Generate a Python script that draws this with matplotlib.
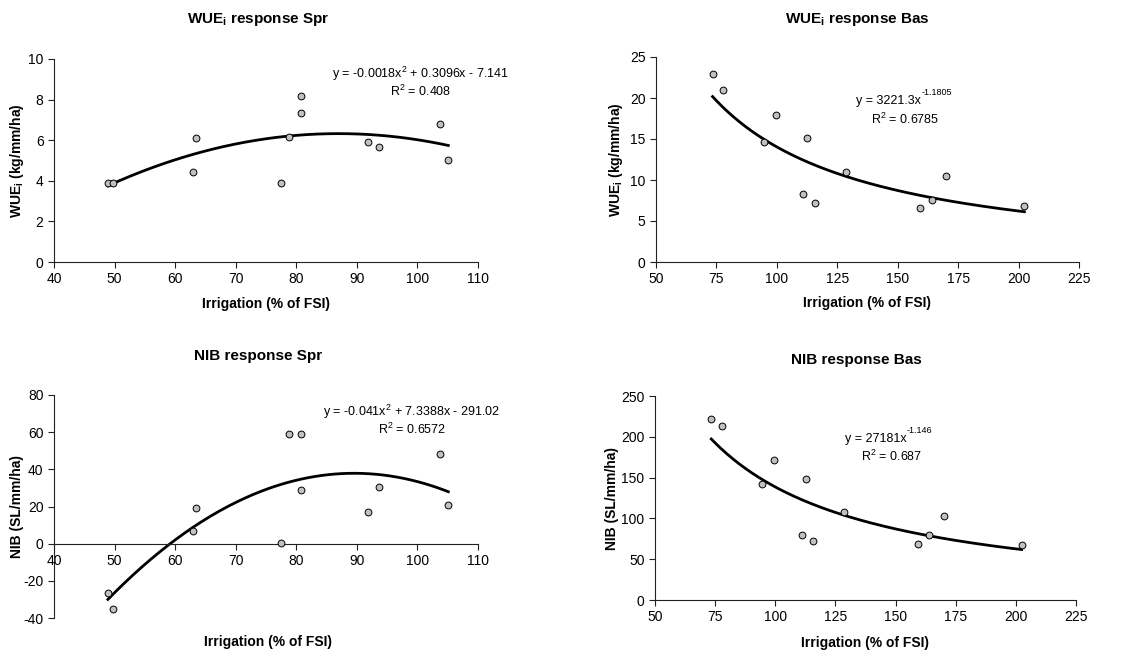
import numpy as np
import matplotlib.pyplot as plt

plt.rcParams['font.family'] = ['Liberation Sans', 'DejaVu Sans']
plt.rcParams['mathtext.default'] = 'regular'
plt.rcParams['axes.unicode_minus'] = False

# irrigation levels (% of FSI)
x_spr = [48.9, 49.8, 62.9, 63.4, 77.4, 78.8, 80.85, 80.85, 91.9, 93.6, 103.8, 105.1]
x_bas = [73.4, 77.7, 94.5, 99.5, 110.9, 112.6, 115.6, 128.7, 159.3, 164.0, 170.1, 202.4]

# WUEi (kg/mm/ha)
wue_spr = [3.88, 3.88, 4.41, 6.09, 3.91, 6.17, 8.17, 7.34, 5.90, 5.67, 6.79, 5.03]
wue_bas = [22.96, 21.0, 14.6, 17.9, 8.24, 15.09, 7.14, 10.97, 6.61, 7.59, 10.44, 6.89]

# NIB (SL/mm/ha)
nib_spr = [-26.4, -35.0, 6.6, 19.4, 0.2, 59.1, 59.1, 28.9, 16.9, 30.4, 48.1, 21.0]
nib_bas = [221.8, 213.2, 142.6, 171.6, 80.1, 147.9, 72.7, 107.8, 68.6, 79.7, 102.5, 67.4]

W, H = 1138, 650
fig = plt.figure(figsize=(W/100, H/100), dpi=100)

def box(l, t, r, b):
    return [l/W, 1-b/H, (r-l)/W, (b-t)/H]

def style(ax):
    for s in ['top', 'right']:
        ax.spines[s].set_visible(False)
    for s in ['left', 'bottom']:
        ax.spines[s].set_linewidth(0.8)
        ax.spines[s].set_color('#222222')
    ax.tick_params(direction='out', length=4, width=0.8, labelsize=10, color='#222222')

def pts(ax, x, y):
    ax.scatter(x, y, s=24, facecolor='#c0c0c0', edgecolor='black', linewidth=0.7, zorder=3)

def quad_trend(ax, x, y):
    # excel-style polynomial trendline (order 2) through the points
    c = np.polyfit(x, y, 2)
    xx = np.linspace(min(x), max(x), 200)
    ax.plot(xx, np.polyval(c, xx), color='black', lw=2, zorder=2)

def pow_trend(ax, x, y):
    # excel-style power trendline
    b, a = np.polyfit(np.log(x), np.log(y), 1)
    xx = np.linspace(min(x), max(x), 200)
    ax.plot(xx, np.exp(a)*xx**b, color='black', lw=2, zorder=2)

def pow_label(ax, x, y, base, expo):
    t = ax.text(x, y, base, ha='right', va='center', fontsize=9)
    ax.annotate(expo, xy=(1, 0.5), xycoords=t, xytext=(0.5, 3), textcoords='offset points',
                ha='left', va='bottom', fontsize=6.5)

def ftxt(px, py, s, **kw):
    fig.text(px/W, 1-py/H, s, ha='center', va='center', **kw)

# --- WUEi Spr
ax1 = fig.add_axes(box(54, 59, 478, 262))
style(ax1)
pts(ax1, x_spr, wue_spr)
quad_trend(ax1, x_spr, wue_spr)
ax1.set_xlim(40, 110)
ax1.set_ylim(0, 10)
ax1.set_xticks(np.arange(40, 111, 10))
ax1.set_yticks(np.arange(0, 11, 2))
ax1.text(100.5, 9.28, 'y = -0.0018x$^2$ + 0.3096x - 7.141', ha='center', va='center', fontsize=9)
ax1.text(100.5, 8.4, 'R$^2$ = 0.408', ha='center', va='center', fontsize=9)

# --- WUEi Bas
ax2 = fig.add_axes(box(656, 57, 1079, 262))
style(ax2)
pts(ax2, x_bas, wue_bas)
pow_trend(ax2, x_bas, wue_bas)
ax2.set_xlim(50, 225)
ax2.set_ylim(0, 25)
ax2.set_xticks(np.arange(50, 226, 25))
ax2.set_yticks(np.arange(0, 26, 5))
pow_label(ax2, 159.5, 19.6, 'y = 3221.3x', '-1.1805')
ax2.text(153, 17.45, 'R$^2$ = 0.6785', ha='center', va='center', fontsize=9)

# --- NIB Spr
ax3 = fig.add_axes(box(54, 395, 478, 618))
style(ax3)
ax3.spines['bottom'].set_position(('data', 0))
pts(ax3, x_spr, nib_spr)
quad_trend(ax3, x_spr, nib_spr)
ax3.set_xlim(40, 110)
ax3.set_ylim(-40, 80)
ax3.set_xticks(np.arange(40, 111, 10))
ax3.set_yticks(np.arange(-40, 81, 20))
ax3.text(99.1, 71.1, 'y = -0.041x$^2$ + 7.3388x - 291.02', ha='center', va='center', fontsize=9)
ax3.text(99.1, 61.3, 'R$^2$ = 0.6572', ha='center', va='center', fontsize=9)

# --- NIB Bas
ax4 = fig.add_axes(box(655, 396, 1076, 600))
style(ax4)
pts(ax4, x_bas, nib_bas)
pow_trend(ax4, x_bas, nib_bas)
ax4.set_xlim(50, 225)
ax4.set_ylim(0, 250)
ax4.set_xticks(np.arange(50, 226, 25))
ax4.set_yticks(np.arange(0, 251, 50))
pow_label(ax4, 154.5, 197.7, 'y = 27181x', '-1.146')
ax4.text(148.5, 176, 'R$^2$ = 0.687', ha='center', va='center', fontsize=9)

# titles and axis labels
ftxt(258, 20, 'WUE$_i$ response Spr', fontsize=11, fontweight='bold')
ftxt(857, 20, 'WUE$_i$ response Bas', fontsize=11, fontweight='bold')
ftxt(258, 356, 'NIB response Spr', fontsize=11, fontweight='bold')
ftxt(856, 360, 'NIB response Bas', fontsize=11, fontweight='bold')

ftxt(266, 304, 'Irrigation (% of FSI)', fontsize=10, fontweight='bold')
ftxt(867, 303, 'Irrigation (% of FSI)', fontsize=10, fontweight='bold')
ftxt(268, 642, 'Irrigation (% of FSI)', fontsize=10, fontweight='bold')
ftxt(865, 643, 'Irrigation (% of FSI)', fontsize=10, fontweight='bold')

ftxt(17, 161, 'WUE$_i$ (kg/mm/ha)', fontsize=10, fontweight='bold', rotation=90)
ftxt(616, 160, 'WUE$_i$ (kg/mm/ha)', fontsize=10, fontweight='bold', rotation=90)
ftxt(17, 506, 'NIB (SL/mm/ha)', fontsize=10, fontweight='bold', rotation=90)
ftxt(612, 499, 'NIB (SL/mm/ha)', fontsize=10, fontweight='bold', rotation=90)

plt.savefig('out.png', dpi=100)
